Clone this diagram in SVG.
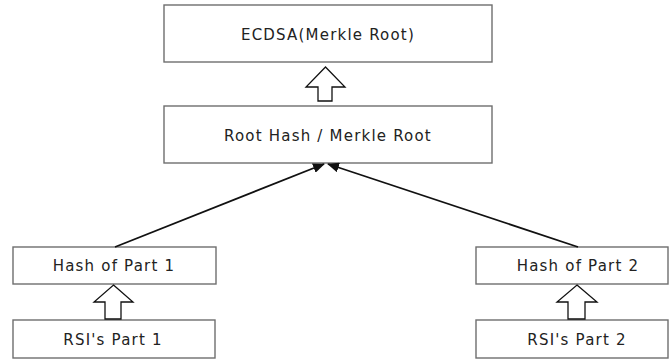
<svg xmlns="http://www.w3.org/2000/svg" width="670" height="359" viewBox="0 0 670 359">
  <style>
    .box { fill: #ffffff; stroke: #6e6e6e; stroke-width: 1.4; }
    .label { font-family: "DejaVu Sans", Verdana, sans-serif; font-size: 15px; letter-spacing: 1.2px; fill: #222222; text-anchor: middle; }
    .edge { stroke: #111111; stroke-width: 1.8; fill: none; }
    .hollow { fill: #ffffff; stroke: #111111; stroke-width: 1.3; stroke-linejoin: miter; }
  </style>
  <defs>
    <marker id="head" viewBox="0 0 12 10" refX="11" refY="5" markerWidth="12" markerHeight="10" markerUnits="userSpaceOnUse" orient="auto">
      <path d="M0,0 L12,5 L0,10 Z" fill="#111111"/>
    </marker>
  </defs>
  <rect width="670" height="359" fill="#ffffff"/>

  <g id="ecdsa">
    <rect class="box" x="164" y="5" width="328" height="57"/>
    <text class="label" x="328" y="40">ECDSA(Merkle Root)</text>
  </g>

  <g id="root-hash">
    <rect class="box" x="164" y="106" width="328" height="57"/>
    <text class="label" x="328" y="141">Root Hash / Merkle Root</text>
  </g>

  <g id="hash-part-1">
    <rect class="box" x="13" y="247" width="203" height="37"/>
    <text class="label" x="114" y="271">Hash of Part 1</text>
  </g>

  <g id="hash-part-2">
    <rect class="box" x="476" y="247" width="192" height="37"/>
    <text class="label" x="578" y="271">Hash of Part 2</text>
  </g>

  <g id="rsi-part-1">
    <rect class="box" x="13" y="320" width="202" height="38"/>
    <text class="label" x="113" y="345">RSI's Part 1</text>
  </g>

  <g id="rsi-part-2">
    <rect class="box" x="476" y="320" width="192" height="38"/>
    <text class="label" x="577" y="345">RSI's Part 2</text>
  </g>

  <g id="connectors">
    <!-- hollow block arrows -->
    <path class="hollow" d="M325.5,67 L345,87 L332,87 L332,101 L318,101 L318,87 L306,87 Z"/>
    <path class="hollow" d="M113.5,285 L133,302 L121,302 L121,319 L105,319 L105,302 L94,302 Z"/>
    <path class="hollow" d="M577,285 L597,302 L585,302 L585,319 L568,319 L568,302 L557,302 Z"/>
    <!-- hash edges into the root -->
    <line class="edge" x1="115" y1="247" x2="324" y2="164" marker-end="url(#head)"/>
    <line class="edge" x1="578" y1="247" x2="328" y2="164" marker-end="url(#head)"/>
  </g>
</svg>
